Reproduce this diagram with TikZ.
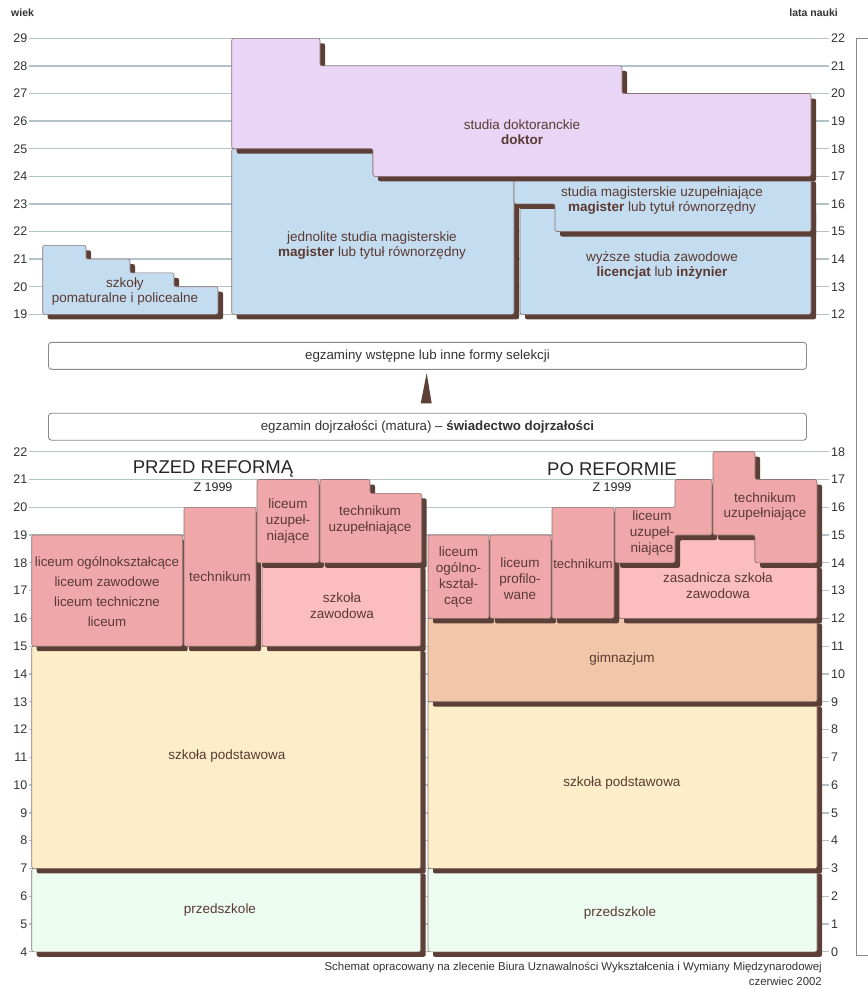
\documentclass[tikz,border=0pt]{standalone}
\usepackage{fontspec}
\setmainfont{Liberation Sans}
\usetikzlibrary{calc}
\definecolor{shadowc}{HTML}{5C4038}
\definecolor{blueF}{HTML}{C4DCEF}
\definecolor{purpleF}{HTML}{E9D6F6}
\definecolor{pinkF}{HTML}{F0A7A9}
\definecolor{lpinkF}{HTML}{FBBDBD}
\definecolor{gimF}{HTML}{F2C7A9}
\definecolor{podF}{HTML}{FDEEC9}
\definecolor{preF}{HTML}{ECFCF1}
\definecolor{txtc}{HTML}{5A3A33}
\definecolor{gridc}{HTML}{B2C2C9}
\definecolor{edgec}{HTML}{8C7470}
\definecolor{numc}{HTML}{333333}
\definecolor{framec}{HTML}{8A8A8A}
\begin{document}
\begin{tikzpicture}[x=1pt,y=-1pt,
  shadowed/.style={preaction={fill=shadowc, transform canvas={xshift=5pt,yshift=-5pt}}},
  sbox/.style={shadowed, fill=#1, draw=edgec, line width=0.6pt, rounded corners=2pt},
  lbl/.style={text=txtc, font=\fontsize{13.5}{15}\selectfont, align=center, inner sep=0pt},
  lbls/.style={text=txtc, font=\fontsize{13.5}{16}\selectfont, align=center, inner sep=0pt},
  exbox/.style={draw=framec, line width=0.9pt, rounded corners=3pt, fill=white,
    minimum width=758pt, minimum height=27pt, inner sep=0pt, text=numc,
    font=\fontsize{13.3}{14}\selectfont},
  numl/.style={text=numc, font=\fontsize{12.5}{13}\selectfont, inner sep=0pt, anchor=east},
  numr/.style={text=numc, font=\fontsize{12.5}{13}\selectfont, inner sep=0pt, anchor=west},
  gridl/.style={draw=gridc, line width=1.3pt},
  ttl/.style={text=black!85, font=\fontsize{18.5}{20}\selectfont, inner sep=0pt},
  subttl/.style={text=black!85, font=\fontsize{12.5}{14}\selectfont, inner sep=0pt},
  foot/.style={text=numc, font=\fontsize{11.4}{12}\selectfont, inner sep=0pt, anchor=east}]
\useasboundingbox[fill=white] (0,0) rectangle (868,989);

% ---------- axes headers
\node[text=numc, font=\fontsize{10.5}{12}\selectfont\bfseries, anchor=west, inner sep=0pt] (wiek) at (11,12.5) {wiek};
\node[text=numc, font=\fontsize{10.5}{12}\selectfont\bfseries, anchor=east, inner sep=0pt] (lata) at (838,12.5) {lata nauki};

% ---------- top grid (ages 19..29)
\foreach \a in {19,...,29}{
  \pgfmathsetmacro{\yy}{38.3+(29-\a)*27.6}
  \draw[gridl] (29,\yy) -- (829,\yy);
  \node[numl] at (27.5,\yy) {\a};
  \pgfmathtruncatemacro{\l}{\a-7}
  \node[numr] at (831,\yy) {\l};
}
% ---------- bottom grid (ages 4..22)
\foreach \a in {4,...,22}{
  \pgfmathsetmacro{\yy}{451.7+(22-\a)*27.78}
  \draw[gridl] (29,\yy) -- (829,\yy);
  \node[numl] at (27.5,\yy) {\a};
  \pgfmathtruncatemacro{\l}{\a-4}
  \node[numr] at (831,\yy) {\l};
}

% ---------- top section boxes
\path[sbox=blueF] (42.7,245.3) -- (86,245.3) -- (86,259.1) -- (130,259.1) -- (130,272.9) -- (174,272.9) -- (174,286.7) -- (218,286.7) -- (218,314.3) -- (42.7,314.3) -- cycle;
\path[sbox=blueF] (231.7,148.7) -- (373,148.7) -- (373,176.3) -- (514,176.3) -- (514,314.3) -- (231.7,314.3) -- cycle;
\path[sbox=blueF] (520,203.9) -- (811,203.9) -- (811,314.3) -- (520,314.3) -- cycle;
\path[sbox=blueF] (514,176.3) -- (811,176.3) -- (811,231.5) -- (555,231.5) -- (555,203.9) -- (514,203.9) -- cycle;
\path[sbox=purpleF] (231.7,38.3) -- (320,38.3) -- (320,65.9) -- (622,65.9) -- (622,93.5) -- (811,93.5) -- (811,176.3) -- (373,176.3) -- (373,148.7) -- (231.7,148.7) -- cycle;

\node[lbl] (pomat) at (125,291.5) {szkoły\\pomaturalne i policealne};
\node[lbl] (jedn) at (372,245.5) {jednolite studia magisterskie\\\textbf{magister} lub tytuł równorzędny};
\node[lbl] (dokt) at (522,132) {studia doktoranckie\\\textbf{doktor}};
\node[lbl] (uzup) at (662,201) {studia magisterskie uzupełniające\\\textbf{magister} lub tytuł równorzędny};
\node[lbl] (wyz) at (662,266) {wyższe studia zawodowe\\\textbf{licencjat} lub \textbf{inżynier}};

% ---------- middle
\node[exbox] (sel) at (427.5,355.8) {egzaminy wstępne lub inne formy selekcji};
\node[exbox] (mat) at (427.5,426.7) {egzamin dojrzałości (matura) -- \textbf{świadectwo dojrzałości}};
\fill[shadowc] ($(sel.south)+(-0.8,3.4)$) -- ($(mat.north)+(-6.8,-9.4)$) -- ($(mat.north)+(4.2,-9.4)$) -- cycle;

% ---------- titles
\node[ttl] (przedref) at (213,469) {PRZED REFORMĄ};
\node[subttl] (z1) at (213,487) {Z 1999};
\node[ttl] (poref) at (612,469) {PO REFORMIE};
\node[subttl] (z2) at (612,487) {Z 1999};

% ---------- left panel
\path[sbox=preF] (31.7,868.4) rectangle (420.7,951.8);
\path[sbox=podF] (31.7,646.2) rectangle (420.7,868.4);
\path[sbox=lpinkF] (262,562.8) rectangle (420.7,646.2);
\path[sbox=pinkF] (31.7,535) rectangle (182.7,646.2);
\path[sbox=pinkF] (184,507.3) rectangle (256,646.2);
\path[sbox=pinkF] (257,479.5) rectangle (319,562.8);
\path[sbox=pinkF] (320,479.5) -- (370,479.5) -- (370,493.4) -- (421.7,493.4) -- (421.7,562.8) -- (320,562.8) -- cycle;

\node[lbl, font=\fontsize{13.3}{20}\selectfont] (licL) at (107,591.5) {liceum ogólnokształcące\\liceum zawodowe\\liceum techniczne\\liceum};
\node[lbl] (techL) at (220,577) {technikum};
\node[lbls] (luzL) at (288,521.5) {liceum\\uzupeł-\\niające};
\node[lbls] (tuzL) at (370,520.5) {technikum\\uzupełniające};
\node[lbls] (zawL) at (342,605.5) {szkoła\\zawodowa};
\node[lbl] (podL) at (227,756) {szkoła podstawowa};
\node[lbl] (preL) at (220,910) {przedszkole};

% ---------- right panel
\path[sbox=preF] (428,868.4) rectangle (817,951.8);
\path[sbox=podF] (428,701.7) rectangle (817,868.4);
\path[sbox=gimF] (428,618.4) rectangle (817,701.7);
\path[sbox=lpinkF] (619,562.8) -- (675,562.8) -- (675,535) -- (755,535) -- (755,562.8) -- (817,562.8) -- (817,618.4) -- (619,618.4) -- cycle;
\path[sbox=pinkF] (428,535) rectangle (489,618.4);
\path[sbox=pinkF] (490,535) rectangle (551,618.4);
\path[sbox=pinkF] (552,507.3) rectangle (614,618.4);
\path[sbox=pinkF] (615,507.3) -- (675,507.3) -- (675,479.5) -- (712,479.5) -- (712,535) -- (675,535) -- (675,562.8) -- (615,562.8) -- cycle;
\path[sbox=pinkF] (713,451.7) -- (755,451.7) -- (755,479.5) -- (817,479.5) -- (817,562.8) -- (755,562.8) -- (755,535) -- (713,535) -- cycle;

\node[lbls, font=\fontsize{13.5}{16.3}\selectfont] (licR) at (458.5,577) {liceum\\ogólno-\\kształ-\\cące};
\node[lbls] (profR) at (520,578.5) {liceum\\profilo-\\wane};
\node[lbl, font=\fontsize{13}{15}\selectfont] (techR) at (583,564) {technikum};
\node[lbls] (luzR) at (652,533.5) {liceum\\uzupeł-\\niające};
\node[lbl] (tuzR) at (765,507) {technikum\\uzupełniające};
\node[lbls] (zasR) at (718,585.5) {zasadnicza szkoła\\zawodowa};
\node[lbl] (gimR) at (622,659) {gimnazjum};
\node[lbl] (podR) at (622,783) {szkoła podstawowa};
\node[lbl] (preR) at (620,913) {przedszkole};

% ---------- footer
\node[foot] (f1) at (822,967.5) {Schemat opracowany na zlecenie Biura Uznawalności Wykształcenia i Wymiany Międzynarodowej};
\node[foot] (f2) at (822,981) {czerwiec 2002};

% ---------- partial frame at right edge
\draw[framec, line width=0.8pt] (869,38) -- (856,38) -- (856,955) -- (869,955);
\end{tikzpicture}
\end{document}
